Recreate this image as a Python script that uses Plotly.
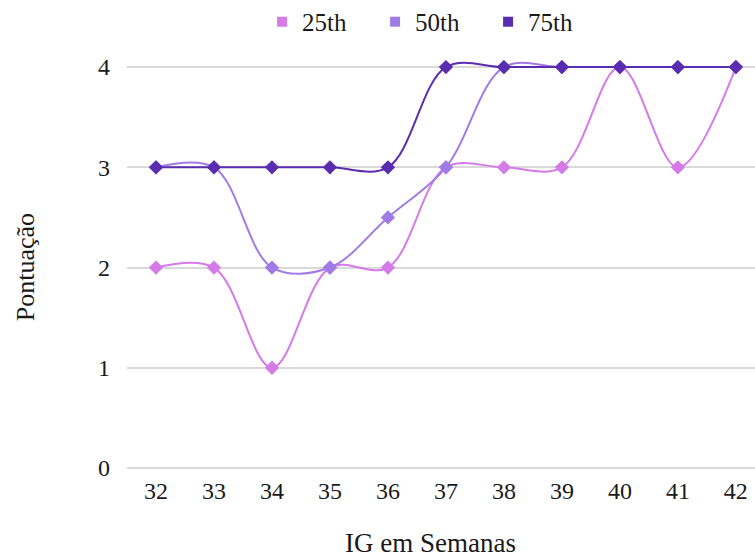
import plotly.graph_objects as go

weeks = ["32", "33", "34", "35", "36", "37", "38", "39", "40", "41", "42"]
p25 = [2, 2, 1, 2, 2, 3, 3, 3, 4, 3, 4]
p50 = [3, 3, 2, 2, 2.5, 3, 4, 4, 4, 4, 4]
p75 = [3, 3, 3, 3, 3, 4, 4, 4, 4, 4, 4]
names = ["25th", "50th", "75th"]
colors = ["#D57BE8", "#A07BE6", "#5A2DB0"]

fig = go.Figure()
for name, vals, col in zip(names, [p25, p50, p75], colors):
    fig.add_trace(go.Scatter(
        x=weeks, y=vals, mode="lines+markers", name=name, showlegend=False,
        line=dict(color=col, width=2, shape="spline", smoothing=1.0),
        marker=dict(symbol="diamond", size=11, color=col),
        cliponaxis=False,
    ))
for name, col in zip(names, colors):
    fig.add_trace(go.Scatter(
        x=[None], y=[None], mode="markers", name=name,
        marker=dict(symbol="square", size=10, color=col),
    ))

font = "Liberation Serif"
fig.update_layout(
    width=755, height=559,
    margin=dict(l=127, r=0, t=32, b=91, autoexpand=False),
    paper_bgcolor="white", plot_bgcolor="white",
    font=dict(family=font, size=23, color="#1a1a1a"),
    showlegend=True,
    legend=dict(orientation="h", x=0.485, xanchor="center", y=1.023, yanchor="middle",
                font=dict(family=font, size=25), itemwidth=30,
                traceorder="normal", entrywidth=68),
    xaxis=dict(type="category", range=[-0.5, 10.33], showgrid=False,
               showline=False, zeroline=False, ticks="", ticklabelstandoff=6,
               tickfont=dict(family=font, size=24)),
    yaxis=dict(range=[0, 4.35], tickvals=[0, 1, 2, 3, 4], showgrid=True,
               gridcolor="#D9D9D9", gridwidth=1.5, zeroline=True, zerolinecolor="#D9D9D9",
               zerolinewidth=1.5, showline=False, ticks="", ticklabelstandoff=16,
               tickfont=dict(family=font, size=24)),
    annotations=[
        dict(text="IG em Semanas", xref="paper", yref="paper", x=0.484, y=-0.172,
             xanchor="center", yanchor="middle", showarrow=False,
             font=dict(family=font, size=27)),
        dict(text="Pontuação", xref="paper", yref="paper", x=-0.162, y=0.461,
             xanchor="center", yanchor="middle", showarrow=False, textangle=-90,
             font=dict(family=font, size=26)),
    ],
)
fig.write_html("out.html")
